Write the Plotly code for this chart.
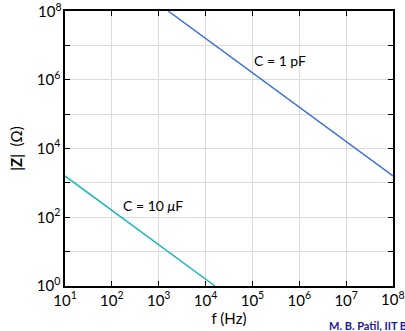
import plotly.graph_objects as go

# Data (endpoints of straight lines on log-log axes)
f_1pF = [1.59e3, 1e8]
z_1pF = [1e8, 1.59e3]
f_10uF = [10, 1.59e4]
z_10uF = [1.59e3, 1.0]

x_tickvals = [10**k for k in range(1, 9)]
x_ticktext = [f"10<sup>{k}</sup>" for k in range(1, 8)] + [""]
y_tickvals = [10**k for k in range(0, 9)]
y_ticktext = [f"10<sup>{k}</sup>" if (k % 2 == 0 and k < 8) else "" for k in range(0, 9)]

FONT = "Lato, 'DejaVu Sans', sans-serif"

fig = go.Figure()
fig.add_trace(go.Scatter(x=f_1pF, y=z_1pF, mode="lines",
                         line=dict(color="#3a6fd8", width=1.5), showlegend=False))
fig.add_trace(go.Scatter(x=f_10uF, y=z_10uF, mode="lines",
                         line=dict(color="#1fb8b8", width=1.5), showlegend=False))

axis_common = dict(showline=True, linecolor="black", linewidth=1.5, mirror="ticks",
                   ticks="inside", ticklen=5, tickcolor="black", tickwidth=1,
                   showgrid=True, gridcolor="#dcdcdc", gridwidth=1, zeroline=False,
                   automargin=False,
                   tickfont=dict(size=15, color="black", family=FONT))

fig.update_xaxes(type="log", range=[1, 8], tickvals=x_tickvals, ticktext=x_ticktext,
                 title=dict(text="f (Hz)", font=dict(size=15, color="black", family=FONT),
                            standoff=0), **axis_common)
fig.update_yaxes(type="log", range=[0, 8], tickvals=y_tickvals, ticktext=y_ticktext,
                 title=dict(text="|<b>Z</b>|  (Ω)", font=dict(size=15, color="black", family=FONT),
                            standoff=11), **axis_common)

# edge tick labels (placed as annotations so they are not clipped at the edges)
fig.add_annotation(x=8, y=0, xref="x", yref="paper", text="10<sup>8</sup>", showarrow=False,
                   xanchor="center", yanchor="top", yshift=-1,
                   font=dict(size=15, color="black", family=FONT))
fig.add_annotation(x=0, y=8, xref="paper", yref="y", text="10<sup>8</sup>", showarrow=False,
                   xanchor="right", yanchor="middle", xshift=-1, yshift=1,
                   font=dict(size=15, color="black", family=FONT))

fig.add_annotation(x=5.0, y=6.55, xref="x", yref="y", text="C = 1 pF", showarrow=False,
                   xanchor="left", font=dict(size=14, color="black", family=FONT))
fig.add_annotation(x=2.2, y=2.35, xref="x", yref="y", text="C = 10 <i>μ</i>F", showarrow=False,
                   xanchor="left", font=dict(size=14, color="black", family=FONT))
fig.add_annotation(x=0.80, y=-0.112, xref="paper", yref="paper", text="<b>M. B. Patil, IIT Bombay</b>",
                   showarrow=False, xanchor="left", yanchor="top",
                   font=dict(size=11, color="#1a1a9a", family=FONT))

fig.update_layout(width=405, height=331, margin=dict(l=65, r=12, t=11, b=45),
                  plot_bgcolor="white", paper_bgcolor="white")

fig.write_html("out.html", config={"displayModeBar": False},
               post_script="document.body.style.margin='0';document.body.style.overflow='hidden';")
